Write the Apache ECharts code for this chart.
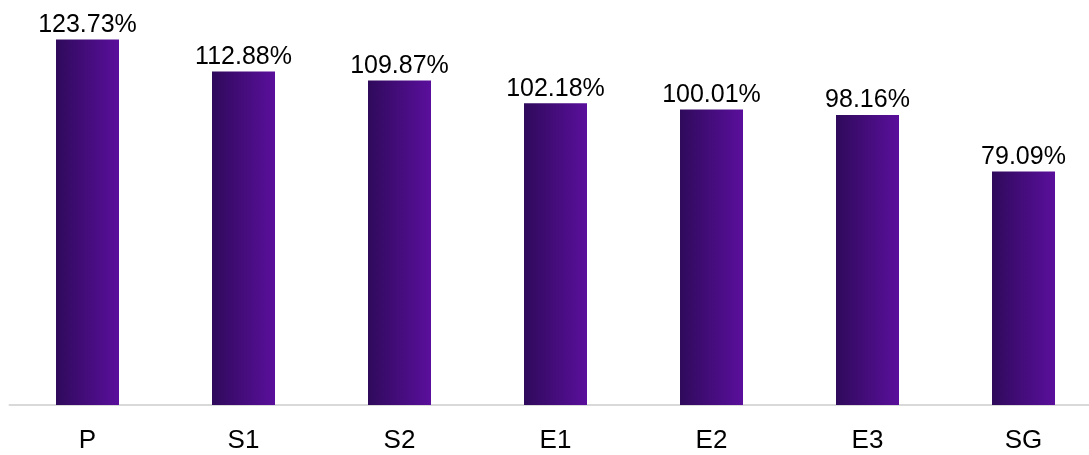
<!DOCTYPE html>
<html>
<head>
<meta charset="utf-8">
<script src="https://cdn.jsdelivr.net/npm/echarts@6/dist/echarts.min.js"></script>
<style>
html,body{margin:0;padding:0;background:#fff;overflow:hidden;}
#c{width:1102px;height:455px;}
</style>
</head>
<body>
<div id="c"></div>
<script>
const categories = ['P', 'S1', 'S2', 'E1', 'E2', 'E3', 'SG'];
const values = [123.73, 112.88, 109.87, 102.18, 100.01, 98.16, 79.09];

const chart = echarts.init(document.getElementById('c'), null, {renderer: 'canvas'});
const FONT = '"Liberation Sans", Arial, sans-serif';
chart.setOption({
  animation: false,
  grid: {left: 9.5, top: 21, right: 0.5, bottom: 50, containLabel: false},
  xAxis: {
    type: 'category',
    data: categories,
    axisLine: {show: true, lineStyle: {color: '#d9d9d9', width: 2}},
    axisTick: {show: false},
    axisLabel: {color: '#000', fontFamily: FONT, fontSize: 26, margin: 23}
  },
  yAxis: {
    type: 'value', min: 0, max: 130,
    show: false,
    splitLine: {show: false}
  },
  series: [{
    type: 'bar',
    data: values,
    barWidth: 63,
    itemStyle: {
      color: new echarts.graphic.LinearGradient(0, 0, 1, 0, [
        {offset: 0, color: '#2f0a5b'},
        {offset: 1, color: '#5a0f9c'}
      ])
    },
    label: {
      show: true, position: 'top', distance: 2,
      color: '#000', fontFamily: FONT, fontSize: 25,
      formatter: p => p.value.toFixed(2) + '%'
    }
  }]
});
</script>
</body>
</html>
